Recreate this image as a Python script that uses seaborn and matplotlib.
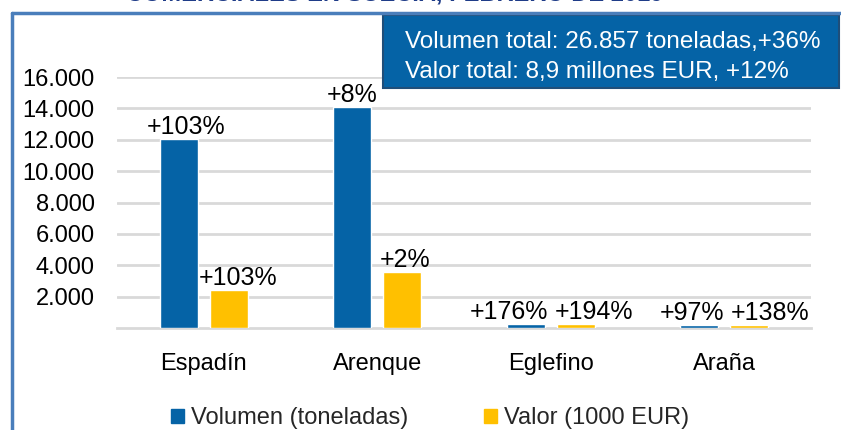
"""
Exportaciones de productos pesqueros comerciales en Suecia, febrero de 2019
Barras agrupadas: volumen (toneladas) y valor (1000 EUR) por especie
"""

import matplotlib
matplotlib.use('Agg')
import matplotlib.pyplot as plt
from matplotlib.patches import Rectangle
from matplotlib.lines import Line2D
from matplotlib.ticker import FuncFormatter
import seaborn as sns
import pandas as pd

# Datos
especies = ['Espadín', 'Arenque', 'Eglefino', 'Araña']
volumen = [12050, 14100, 240, 220]        # toneladas
valor = [2420, 3570, 230, 220]            # 1000 EUR
var_volumen = ['+103%', '+8%', '+176%', '+97%']
var_valor = ['+103%', '+2%', '+194%', '+138%']
series = ['Volumen (toneladas)', 'Valor (1000 EUR)']
titulo = 'COMERCIALES EN SUECIA, FEBRERO DE 2019'
resumen = ['Volumen total: 26.857 toneladas,+36%',
           'Valor total: 8,9 millones EUR, +12%']

colores = {'Volumen (toneladas)': '#0563a6', 'Valor (1000 EUR)': '#ffc000'}

df = pd.DataFrame({
    'especie': especies * 2,
    'serie': [series[0]] * 4 + [series[1]] * 4,
    'valor': volumen + valor,
})

sns.set_theme(style='white')
plt.rcParams['font.family'] = ['Liberation Sans', 'DejaVu Sans']

W, H = 841, 430
fig = plt.figure(figsize=(W / 100, H / 100), dpi=100)
ax = fig.add_axes([117 / W, 1 - 328 / H, (811 - 117) / W, (328 - 77) / H])

sns.barplot(data=df, x='especie', y='valor', hue='serie', palette=colores,
            width=0.575, gap=0.24, ax=ax, legend=False, saturation=1, zorder=3)

ax.set_ylim(0, 16000)
ax.set_xlim(-0.5, 3.5)
ax.set_yticks(range(2000, 16001, 2000))
ax.yaxis.set_major_formatter(FuncFormatter(lambda v, p: f'{int(v):,}'.replace(',', '.')))
ax.grid(axis='y', color='#d9d9d9', linewidth=2)
ax.set_axisbelow(True)
for s in ['top', 'right', 'left']:
    ax.spines[s].set_visible(False)
ax.spines['bottom'].set_color('#d9d9d9')
ax.spines['bottom'].set_linewidth(2)
ax.spines['bottom'].set_zorder(1)
ax.set_xlabel('')
ax.set_ylabel('')
ax.tick_params(axis='y', labelsize=17, pad=16, length=0, labelcolor='black')
ax.tick_params(axis='x', labelsize=17, pad=18, length=0, labelcolor='black')

# Etiquetas de variación sobre cada barra (desplazamientos horizontales en puntos)
off_vol = [5, 0, -12, -5]
off_val = [7, 2, 13, 15]
for i, cont in enumerate(ax.containers):
    etiquetas = var_volumen if i == 0 else var_valor
    offs = off_vol if i == 0 else off_val
    for j, bar in enumerate(cont):
        ax.annotate(etiquetas[j], (bar.get_x() + bar.get_width() / 2, bar.get_height()),
                    xytext=(offs[j], 0), textcoords='offset points',
                    ha='center', va='bottom', fontsize=18, color='black')

# Leyenda
handles = [Rectangle((0, 0), 1, 1, color=colores[s]) for s in series]
fig.legend(handles, series, loc='center', bbox_to_anchor=(430 / W, 1 - 418 / H),
           ncol=2, frameon=False, fontsize=17, handlelength=0.55, handleheight=0.55,
           handletextpad=0.3, columnspacing=3.2)

# Título (recortado en la parte superior, como en el original)
fig.text(395 / W, 1 - 6 / H, titulo, ha='center', va='bottom', fontsize=17,
         fontweight='bold', color='#1f3c88')

# Marco azul
fig.add_artist(Line2D([12 / W, 1], [1 - 13 / H, 1 - 13 / H], color='#4a7ebb', lw=2.5))
fig.add_artist(Line2D([12 / W, 12 / W], [0, 1 - 13 / H], color='#4a7ebb', lw=2.5))

# Cuadro de totales
fig.add_artist(Rectangle((383 / W, 1 - 88 / H), (839 - 383) / W, (88 - 15) / H,
                         transform=fig.transFigure, facecolor='#0563a6',
                         edgecolor='#1f4e79', lw=1.5))
fig.text(405 / W, 1 - 42 / H, resumen[0], ha='left', va='center', fontsize=17.5, color='white')
fig.text(405 / W, 1 - 72 / H, resumen[1], ha='left', va='center', fontsize=17.5, color='white')

fig.savefig('out.png', dpi=100)
